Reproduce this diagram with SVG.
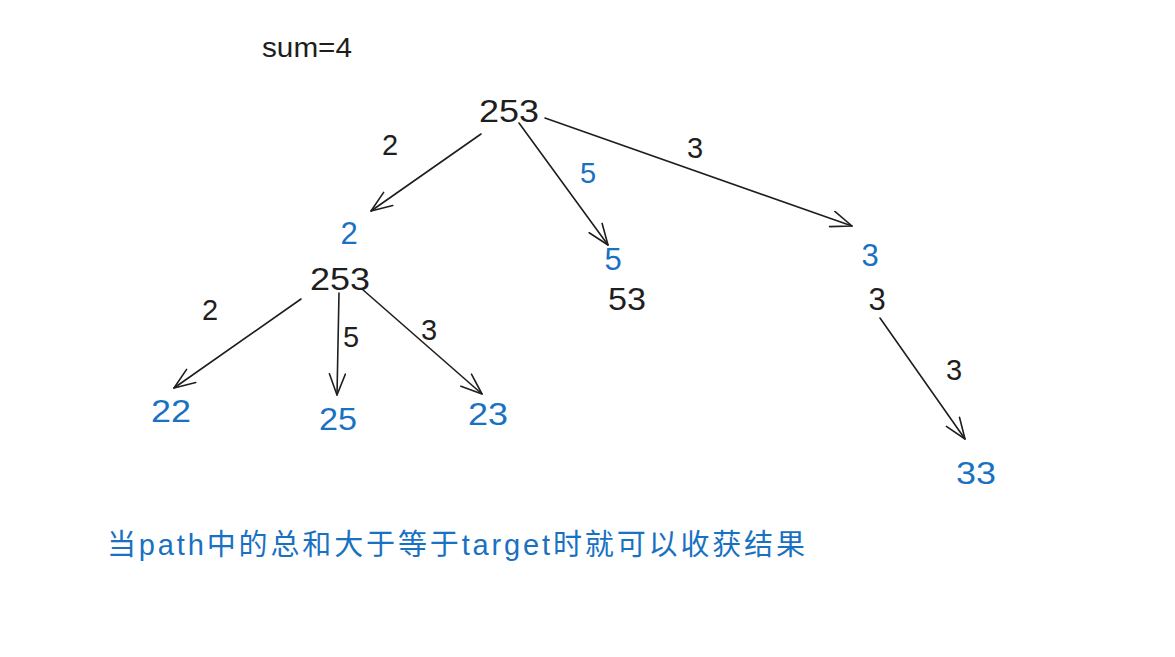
<svg xmlns="http://www.w3.org/2000/svg" width="1175" height="657" viewBox="0 0 1175 657">
<style>
text{font-family:"Liberation Sans","Noto Sans CJK SC",sans-serif;text-anchor:middle}
.k{fill:#1e1e1e}
.b{fill:#1971c2}
.n{font-size:31px}
.e{font-size:29px}
.c line{stroke:#1e1e1e;stroke-width:1.6;stroke-linecap:round;fill:none;marker-end:url(#ah)}
</style>
<defs>
<marker id="ah" markerUnits="userSpaceOnUse" markerWidth="26" markerHeight="20" refX="22" refY="9" orient="auto" viewBox="0 0 26 20">
<path d="M1,1 L22,9 L1,17" fill="none" stroke="#1e1e1e" stroke-width="1.6" stroke-linecap="round" stroke-linejoin="round"/>
</marker>
</defs>
<rect width="1175" height="657" fill="#ffffff"/>
<g id="label-sum"><text class="k" x="307" y="57" style="font-size:27px" textLength="90" lengthAdjust="spacingAndGlyphs">sum=4</text></g>
<g class="c" id="connectors">
<line x1="481" y1="134" x2="371" y2="211"/>
<line x1="519" y1="123" x2="608" y2="245"/>
<line x1="545" y1="118" x2="852" y2="226"/>
<line x1="301" y1="299" x2="174" y2="388"/>
<line x1="339" y1="293" x2="337" y2="395"/>
<line x1="362" y1="289" x2="482" y2="394"/>
<line x1="880" y1="318" x2="965" y2="439"/>
</g>
<g id="edge-labels">
<text class="k e" x="390" y="155">2</text>
<text class="b e" x="588" y="183">5</text>
<text class="k e" x="695" y="158">3</text>
<text class="k e" x="210" y="320">2</text>
<text class="k e" x="351" y="347">5</text>
<text class="k e" x="429" y="340">3</text>
<text class="k e" x="954" y="380">3</text>
</g>
<g id="node-root"><text class="k n" x="509" y="122" textLength="60" lengthAdjust="spacingAndGlyphs">253</text></g>
<g id="node-2">
<text class="b n" x="349" y="244">2</text>
<text class="k n" x="340" y="290" textLength="60" lengthAdjust="spacingAndGlyphs">253</text>
</g>
<g id="node-5">
<text class="b n" x="613" y="270">5</text>
<text class="k n" x="627" y="310" textLength="38" lengthAdjust="spacingAndGlyphs">53</text>
</g>
<g id="node-3">
<text class="b n" x="870" y="266">3</text>
<text class="k n" x="877" y="310">3</text>
</g>
<g id="node-22"><text class="b n" x="171" y="422" textLength="40" lengthAdjust="spacingAndGlyphs">22</text></g>
<g id="node-25"><text class="b n" x="338" y="430" textLength="38" lengthAdjust="spacingAndGlyphs">25</text></g>
<g id="node-23"><text class="b n" x="488" y="425" textLength="40" lengthAdjust="spacingAndGlyphs">23</text></g>
<g id="node-33"><text class="b n" x="976" y="484" textLength="40" lengthAdjust="spacingAndGlyphs">33</text></g>
<g id="note"><text class="b" x="107" y="555" style="font-size:29px;text-anchor:start" textLength="698" lengthAdjust="spacing">当path中的总和大于等于target时就可以收获结果</text></g>
</svg>
